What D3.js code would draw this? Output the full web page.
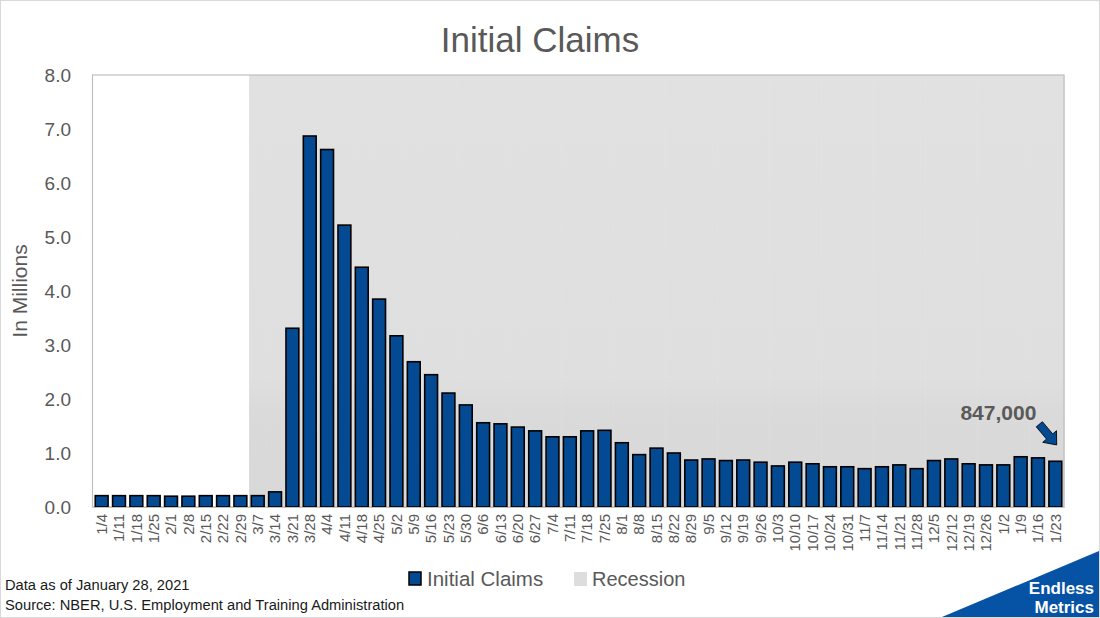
<!DOCTYPE html>
<html lang="en">
<head>
<meta charset="UTF-8">
<title>Initial Claims</title>
<script src="https://d3js.org/d3.v7.min.js"></script>
<style>
    body { margin: 0; background: #fff; }
    text { font-family: "Liberation Sans", Arial, sans-serif; fill: #595959; }
</style>
</head>
<body>
<div id="chart"></div>
<script>
// Week labels (2020 through Jan 2021)
const weeks = ["1/4","1/11","1/18","1/25","2/1","2/8","2/15","2/22","2/29","3/7","3/14",
    "3/21","3/28","4/4","4/11","4/18","4/25","5/2","5/9","5/16","5/23","5/30",
    "6/6","6/13","6/20","6/27","7/4","7/11","7/18","7/25","8/1","8/8","8/15","8/22",
    "8/29","9/5","9/12","9/19","9/26","10/3","10/10","10/17","10/24","10/31",
    "11/7","11/14","11/21","11/28","12/5","12/12","12/19","12/26","1/2","1/9","1/16","1/23"];

// Initial claims, in millions
const claims = [0.21,0.21,0.21,0.21,0.20,0.20,0.21,0.21,0.21,0.21,0.28,
    3.31,6.87,6.62,5.22,4.44,3.85,3.17,2.69,2.45,2.11,1.89,
    1.56,1.54,1.48,1.41,1.30,1.30,1.41,1.42,1.19,0.97,1.09,1.00,
    0.87,0.89,0.86,0.87,0.83,0.76,0.83,0.80,0.745,0.745,
    0.71,0.745,0.78,0.71,0.86,0.89,0.80,0.78,0.78,0.93,0.91,0.847];

// Recession flag per week (NBER)
const recession = weeks.map((w, i) => i >= 9 ? 1 : 0);

const yTicks = [0, 1, 2, 3, 4, 5, 6, 7, 8];
const lastLabel = "847,000";

const W = 1100, H = 618;
const margin = {top: 75, right: 36, bottom: 111, left: 93};

const svg = d3.select("#chart").append("svg")
    .attr("width", W)
    .attr("height", H);

// outer frame
svg.append("rect")
    .attr("x", 0.5).attr("y", 0.5)
    .attr("width", W - 1).attr("height", H - 1)
    .attr("fill", "#fff")
    .attr("stroke", "#D9D9D9");

const x = d3.scaleBand()
    .domain(weeks)
    .range([margin.left, W - margin.right]);

const y = d3.scaleLinear()
    .domain([0, 8])
    .range([H - margin.bottom, margin.top]);

const defs = svg.append("defs");
const grad = defs.append("linearGradient")
    .attr("id", "recGrad")
    .attr("x1", 0).attr("y1", 0).attr("x2", 0).attr("y2", 1);
grad.append("stop").attr("offset", "0%").attr("stop-color", "#E1E1E1");
grad.append("stop").attr("offset", "70%").attr("stop-color", "#DFDFDF");
grad.append("stop").attr("offset", "78%").attr("stop-color", "#DADADA");
grad.append("stop").attr("offset", "100%").attr("stop-color", "#D8D8D8");

// recession shading
svg.append("g")
    .selectAll("rect")
    .data(weeks.filter((w, i) => recession[i]))
    .join("rect")
    .attr("x", d => x(d))
    .attr("y", y(8))
    .attr("width", x.step() + 0.5)
    .attr("height", y(0) - y(8))
    .attr("fill", "url(#recGrad)");

// plot frame
svg.append("rect")
    .attr("x", margin.left - 0.5)
    .attr("y", y(8))
    .attr("width", W - margin.right - margin.left + 0.5)
    .attr("height", y(0) - y(8))
    .attr("fill", "none")
    .attr("stroke", "#BFBFBF")
    .attr("stroke-width", 1.2);

// bars
const barW = x.bandwidth() * 0.74;
svg.append("g")
    .selectAll("rect")
    .data(claims)
    .join("rect")
    .attr("x", (d, i) => x(weeks[i]) + (x.bandwidth() - barW) / 2)
    .attr("y", d => y(d))
    .attr("width", barW)
    .attr("height", d => y(0) - y(d))
    .attr("fill", "#044A92")
    .attr("stroke", "#000")
    .attr("stroke-width", 1.6);

// y axis
const yAxis = svg.append("g")
    .attr("transform", `translate(${margin.left},0)`)
    .call(d3.axisLeft(y).tickValues(yTicks).tickFormat(d3.format(".1f")).tickSize(0).tickPadding(22));
yAxis.select(".domain").remove();
yAxis.selectAll("text")
    .style("font-size", "19px")
    .attr("fill", "#595959");

// x axis
const xAxis = svg.append("g")
    .attr("transform", `translate(0,${y(0)})`)
    .call(d3.axisBottom(x).tickSize(0));
xAxis.select(".domain").attr("stroke", "#BFBFBF").attr("stroke-width", 1.2);
xAxis.selectAll("text")
    .style("font-size", "15px")
    .attr("fill", "#595959")
    .attr("transform", "rotate(-90)")
    .attr("text-anchor", "end")
    .attr("x", -7)
    .attr("y", 0)
    .attr("dy", "0.35em");

// title
svg.append("text")
    .attr("x", 540).attr("y", 52)
    .attr("text-anchor", "middle")
    .style("font-size", "35px")
    .text("Initial Claims");

// y axis title
svg.append("text")
    .attr("transform", `translate(27,${(y(0) + y(8)) / 2}) rotate(-90)`)
    .attr("text-anchor", "middle")
    .style("font-size", "21px")
    .text("In Millions");

// annotation for last week
const lastW = weeks[weeks.length - 1];
const lastV = claims[claims.length - 1];
const ax = x(lastW) + x.bandwidth() / 2;
const ay = y(lastV);
svg.append("text")
    .attr("x", ax - 19).attr("y", ay - 41)
    .attr("text-anchor", "end")
    .style("font-size", "21px")
    .style("font-weight", "bold")
    .text(lastLabel);

svg.append("path")
    .attr("d", "M0,-4 L16,-4 L16,-9 L27,0 L16,9 L16,4 L0,4 Z")
    .attr("transform", `translate(${ax - 16},${ay - 37}) rotate(50)`)
    .attr("fill", "#044A92")
    .attr("stroke", "#000")
    .attr("stroke-width", 0.8);

// legend
const leg = svg.append("g").attr("transform", "translate(409,572)");
leg.append("rect")
    .attr("width", 12).attr("height", 13)
    .attr("fill", "#044A92").attr("stroke", "#000").attr("stroke-width", 1.5);
leg.append("text")
    .attr("x", 18).attr("y", 14)
    .style("font-size", "20.5px")
    .text("Initial Claims");
leg.append("rect")
    .attr("x", 165).attr("width", 13).attr("height", 14)
    .attr("fill", "#DDDDDD");
leg.append("text")
    .attr("x", 183).attr("y", 14)
    .style("font-size", "20px")
    .text("Recession");

// notes
svg.append("text")
    .attr("x", 5).attr("y", 590)
    .style("font-size", "14.7px")
    .style("fill", "#1a1a1a")
    .text("Data as of January 28, 2021");
svg.append("text")
    .attr("x", 5).attr("y", 610)
    .style("font-size", "14.7px")
    .style("fill", "#1a1a1a")
    .text("Source: NBER, U.S. Employment and Training Administration");

// logo
svg.append("path")
    .attr("d", "M942,617 L1099,551 L1099,617 Z")
    .attr("fill", "#0652A5");
svg.append("text")
    .attr("x", 1094).attr("y", 594)
    .attr("text-anchor", "end")
    .style("font-size", "17px")
    .style("font-weight", "bold")
    .style("fill", "#fff")
    .text("Endless");
svg.append("text")
    .attr("x", 1094).attr("y", 613)
    .attr("text-anchor", "end")
    .style("font-size", "17px")
    .style("font-weight", "bold")
    .style("fill", "#fff")
    .text("Metrics");
</script>
</body>
</html>
